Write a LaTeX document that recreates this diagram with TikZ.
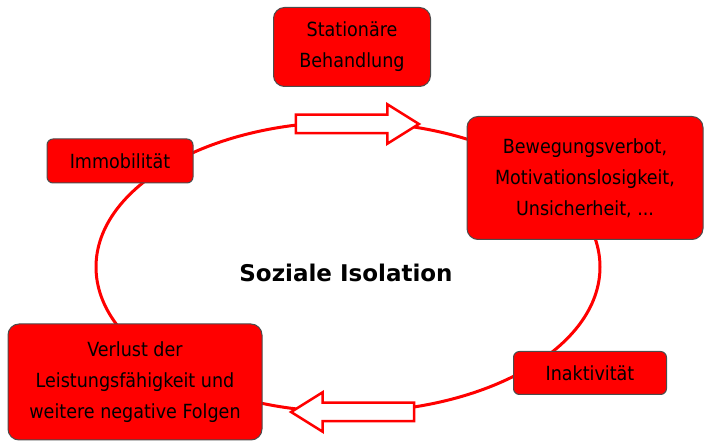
\documentclass[tikz,border=0pt]{standalone}
\usepackage{fontspec}
\setmainfont{DejaVu Sans}
\newfontfamily\condfont{DejaVu Sans Condensed}
\usetikzlibrary{shapes.arrows, backgrounds}

\begin{document}
\begin{tikzpicture}[
		x=1pt, y=-1pt,
		% Styles
		box/.style={rectangle, draw=black!70, line width=1pt, fill=red, rounded corners=11pt, align=center, inner sep=0pt, text=black, font=\condfont\fontsize{19.5}{31}\selectfont},
		smallbox/.style={box, rounded corners=6pt},
		cycle_line/.style={draw=red, line width=3pt},
		hollow_arrow/.style={single arrow, draw=red, line width=2.5pt, fill=white, inner xsep=0pt, inner ysep=8pt, minimum height=123pt, single arrow head extend=10.5pt, single arrow tip angle=64}
	]
	\useasboundingbox (0,0) rectangle (705,446);

	% --- Boxes ---
	\node[box, minimum width=157pt, minimum height=79pt] (stationaer) at (352,47) {Stationäre\\Behandlung};
	\node[smallbox, minimum width=146pt, minimum height=44pt] (immobil) at (120,161) {Immobilität};
	\node[box, minimum width=236pt, minimum height=123pt] (verbot) at (585,178) {Bewegungsverbot,\\Motivationslosigkeit,\\Unsicherheit, ...};
	\node[box, minimum width=254pt, minimum height=116pt] (verlust) at (135,382) {Verlust der\\Leistungsfähigkeit und\\weitere negative Folgen};
	\node[smallbox, minimum width=153pt, minimum height=43pt] (inaktiv) at (590,373) {Inaktivität};

	% --- Centre ---
	\node[font=\bfseries\fontsize{23}{28}\selectfont] (isolation) at (346,273) {Soziale Isolation};

	% --- Hollow arrows on the cycle ---
	\node[hollow_arrow] (arrow_top) at (350,124) {};
	\node[hollow_arrow, shape border rotate=180] (arrow_bottom) at (360,412) {};

	% --- Cycle ---
	\begin{scope}[on background layer]
		\draw[cycle_line] ([shift={(2,-6)}]isolation.center) ellipse [x radius=252, y radius=145];
	\end{scope}

\end{tikzpicture}
\end{document}
